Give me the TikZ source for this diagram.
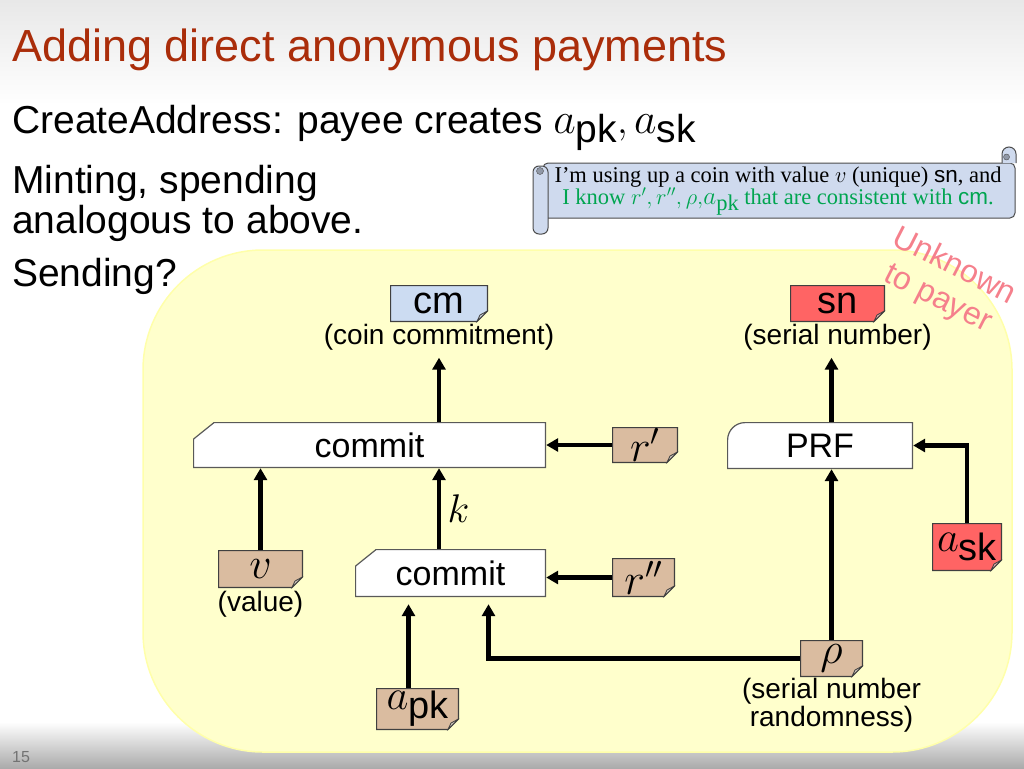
\RequirePackage{fix-cm}
\documentclass[tikz,border=0pt]{standalone}
\usepackage{fontspec}
\setmainfont{Liberation Sans}
\setsansfont{Liberation Sans}
\newfontfamily\scrollfont{Liberation Serif}
\usepackage{graphicx}
\usetikzlibrary{positioning,arrows.meta}

\definecolor{titlered}{RGB}{170,45,10}
\definecolor{cmblue}{RGB}{204,220,242}
\definecolor{snred}{RGB}{255,100,100}
\definecolor{coinTan}{RGB}{218,188,160}
\definecolor{scrollblue}{RGB}{207,218,238}
\definecolor{knowgreen}{RGB}{0,165,80}
\definecolor{zoneyellow}{RGB}{255,255,204}
\definecolor{zoneedge}{RGB}{255,255,170}
\definecolor{unkpink}{RGB}{245,128,140}

\newcommand{\atsize}[1]{\fontsize{#1}{#1}\selectfont}
\newcommand{\keysub}[1]{\scalebox{1.12}{$a$}\raisebox{-.25em}{#1}}

\tikzset{
  arr/.style={line width=4.5pt,-{Triangle[length=12pt,width=13pt]}},
  lbl/.style={inner sep=0pt,font=\atsize{28},align=center},
  note/.style={inner sep=0pt,font=\atsize{38},path picture={
      \path[fill=#1,draw=black!75,line width=1.2pt]
        ([shift={(.6,-.6)}]path picture bounding box.north west) --
        ([shift={(-.6,-.6)}]path picture bounding box.north east) --
        ([shift={(-.6,11)}]path picture bounding box.south east) --
        ([shift={(-11,.6)}]path picture bounding box.south east) --
        ([shift={(.6,.6)}]path picture bounding box.south west) -- cycle;
      \path[fill=#1!60!gray!60!white,draw=black!75,line width=.8pt]
        ([shift={(-.6,11)}]path picture bounding box.south east) --
        ([shift={(-11,.6)}]path picture bounding box.south east) --
        ([shift={(-8,7)}]path picture bounding box.south east) -- cycle;}},
  mathnote/.style={note=#1,font=\atsize{44}},
  cutbox/.style={inner sep=0pt,font=\atsize{34},path picture={
      \path[fill=white,draw=black!65,line width=1.2pt]
        ([shift={(21,-.6)}]path picture bounding box.north west) --
        ([shift={(-.6,-.6)}]path picture bounding box.north east) --
        ([shift={(-.6,.6)}]path picture bounding box.south east) --
        ([shift={(.6,.6)}]path picture bounding box.south west) --
        ([shift={(.6,-17)}]path picture bounding box.north west) -- cycle;}},
  roundbox/.style={inner sep=0pt,font=\atsize{34},path picture={
      \path[fill=white,draw=black!65,line width=1.2pt]
        ([shift={(-.6,-.6)}]path picture bounding box.north east) --
        ([shift={(18,-.6)}]path picture bounding box.north west)
          arc[start angle=90,end angle=180,radius=17.4] --
        ([shift={(.6,.6)}]path picture bounding box.south west) --
        ([shift={(-.6,.6)}]path picture bounding box.south east) -- cycle;}},
}

\begin{document}
\begin{tikzpicture}[x=1pt,y=1pt]
\useasboundingbox (0,0) rectangle (1024,-768);
\shade[top color=black!9,bottom color=white] (0,0) rectangle (1024,-105);
\shade[top color=white,bottom color=black!33] (0,-722) rectangle (1024,-768);
\filldraw[fill=zoneyellow,draw=zoneedge,line width=1.5pt,rounded corners=120] (143,-250) rectangle (1012,-752);

\node[anchor=base west,inner sep=0pt,text=titlered,font=\atsize{45}] (title) at (12,-62) {Adding direct anonymous payments};
\node[anchor=base west,inner sep=0pt,font=\atsize{39}] (addr) at (12,-133) {CreateAddress: payee creates \keysub{pk}$,$\,\keysub{sk}};
\node[anchor=base west,inner sep=0pt,font=\atsize{39}] (mint) at (12,-193) {Minting, spending};
\node[anchor=base west,inner sep=0pt,font=\atsize{39}] (mint2) at (12,-233) {analogous to above.};
\node[anchor=base west,inner sep=0pt,font=\atsize{39}] (send) at (12,-286) {Sending?};
\node[anchor=base west,inner sep=0pt,text=black!55,font=\atsize{16}] (page) at (12,-762) {15};

% scroll
\filldraw[fill=scrollblue,draw=black!70,line width=1pt,rounded corners=5] (543,-163) -- (1015,-163) -- (1015,-218) -- (543,-218) -- cycle;
\filldraw[fill=scrollblue,draw=black!70,line width=1pt] (1002,-163) -- (1002,-154) arc[start angle=180,end angle=0,radius=7] -- (1016,-163);
\filldraw[fill=scrollblue!70!black,draw=black!70] (1006.5,-157) circle[radius=3];
\filldraw[fill=scrollblue,draw=black!70,line width=1pt,rounded corners=6] (533,-166) rectangle (548,-234);
\filldraw[fill=scrollblue!70!black,draw=black!70] (540,-171) circle[radius=3.5];
\node[align=center,inner sep=0pt,font=\scrollfont\fontsize{22.5}{21}\selectfont] (claim) at (778,-191) {I’m using up a coin with value $v$ (unique) \textsf{sn}, and\\\textcolor{knowgreen}{I know $r',r'',\rho,$\keysub{pk} that are consistent with \textsf{cm}.}};

\node[rotate=-27,align=center,inner sep=0pt,text=unkpink,font=\fontsize{32}{36}\selectfont] (unknown) at (946,-283) {Unknown\\to payer};

\node[note=cmblue,minimum width=98,minimum height=37] (cm) at (439,-303.5) {cm};
\node[lbl,below=2pt of cm] (cmlbl) {(coin commitment)};
\node[note=snred,minimum width=95,minimum height=37] (sn) at (837.5,-303.5) {sn};
\node[lbl,below=2pt of sn] (snlbl) {(serial number)};
\node[cutbox,minimum width=353,minimum height=46] (commitA) at (369.5,-445) {commit};
\node[mathnote=coinTan,minimum width=66,minimum height=36] (rp) at (645,-445) {$r'$};
\node[roundbox,minimum width=186,minimum height=47] (prf) at (820,-445.5) {PRF};
\node[note=snred,minimum width=70,minimum height=48] (ask) at (967,-547) {\keysub{sk}};
\node[mathnote=coinTan,minimum width=85,minimum height=38] (v) at (260.5,-569) {$v$};
\node[lbl,below=3pt of v] (vlbl) {(value)};
\node[cutbox,minimum width=191,minimum height=48] (commitB) at (450.5,-573) {commit};
\node[mathnote=coinTan,minimum width=63,minimum height=39] (rpp) at (643.5,-577.5) {$r''$};
\node[note=coinTan,minimum width=83,minimum height=42] (apk) at (417.5,-709) {\keysub{pk}};
\node[mathnote=coinTan,minimum width=63,minimum height=37] (rho) at (831.5,-658.5) {$\rho$};
\node[lbl,below=1pt of rho] (rholbl) {(serial number\\randomness)};

\draw[arr,shorten >=7pt] (cmlbl |- commitA.north) -- (cmlbl.south);
\draw[arr] (rp.west) -- (commitA.east |- rp.west);
\draw[arr] (v.north) -- (v.north |- commitA.south);
\draw[arr] (cmlbl |- commitB.north) -- (cmlbl |- commitA.south) node[midway,right=3pt,font=\atsize{40}] (klbl) {$k$};
\draw[arr] (rpp.west) -- (commitB.east |- rpp.west);
\draw[arr,shorten >=7pt] ([xshift=-9pt]apk.north) -- ([xshift=-9pt]apk.north |- commitB.south);
\draw[arr,shorten >=7pt] (rho.west) -| ([xshift=38pt]commitB.south);
\draw[arr] (rho.north) -- (rho.north |- prf.south);
\draw[arr] (ask.north) |- (prf.east);
\draw[arr,shorten >=7pt] (rho |- prf.north) -- (rho |- snlbl.south);
\end{tikzpicture}
\end{document}
